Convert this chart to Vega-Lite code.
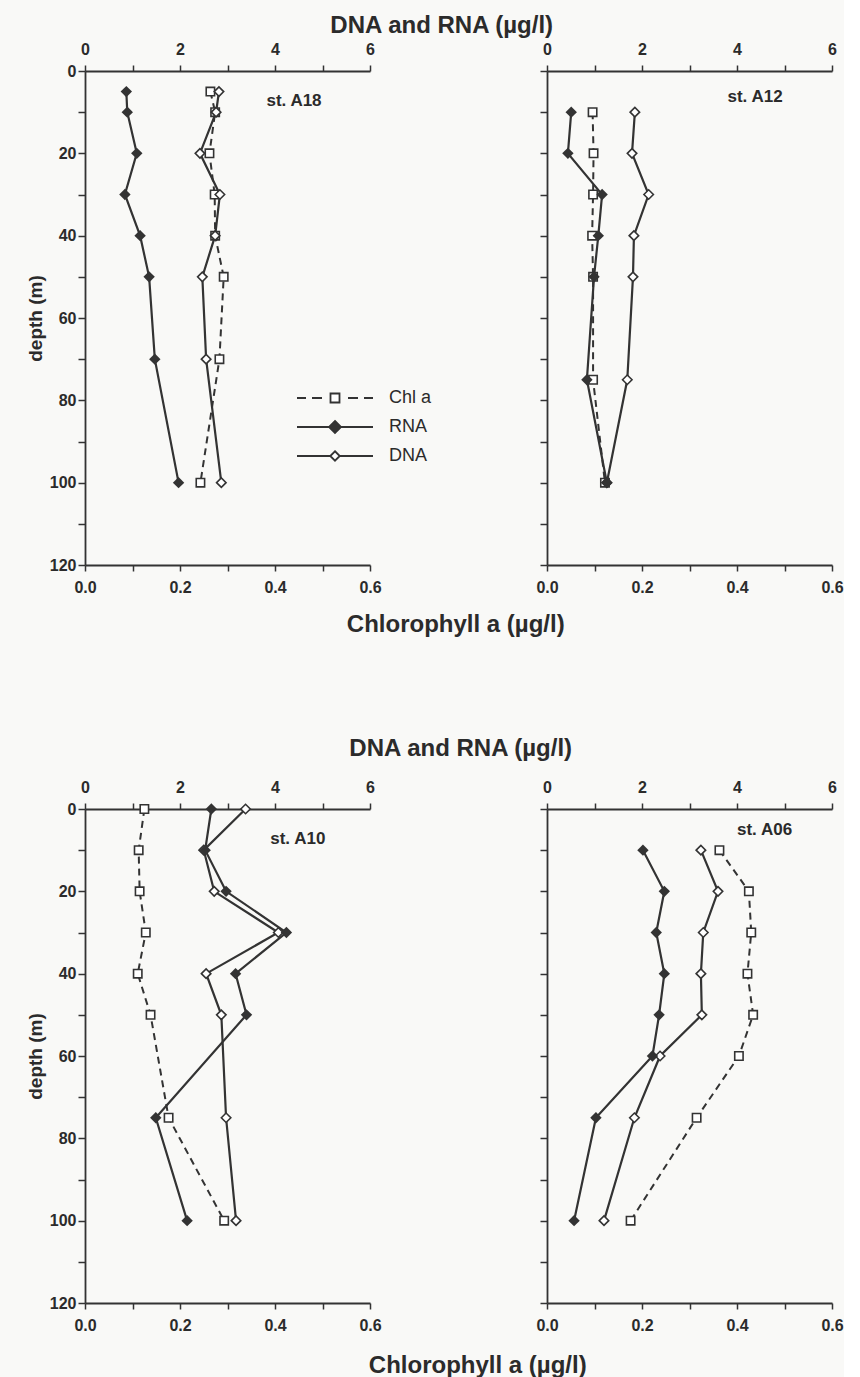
{
  "$schema": "https://vega.github.io/schema/vega-lite/v6.json",
  "background": "#f9f9f7",
  "padding": {"left": 26, "top": 14, "right": 0, "bottom": 0},
  "datasets": {
    "prof": [
      {"st":"A18","depth":5,"var":"RNA","value":0.87},{"st":"A18","depth":10,"var":"RNA","value":0.89},{"st":"A18","depth":20,"var":"RNA","value":1.09},{"st":"A18","depth":30,"var":"RNA","value":0.84},{"st":"A18","depth":40,"var":"RNA","value":1.16},{"st":"A18","depth":50,"var":"RNA","value":1.35},{"st":"A18","depth":70,"var":"RNA","value":1.47},{"st":"A18","depth":100,"var":"RNA","value":1.97},
      {"st":"A18","depth":5,"var":"DNA","value":2.82},{"st":"A18","depth":10,"var":"DNA","value":2.76},{"st":"A18","depth":20,"var":"DNA","value":2.42},{"st":"A18","depth":30,"var":"DNA","value":2.84},{"st":"A18","depth":40,"var":"DNA","value":2.74},{"st":"A18","depth":50,"var":"DNA","value":2.47},{"st":"A18","depth":70,"var":"DNA","value":2.55},{"st":"A18","depth":100,"var":"DNA","value":2.87},
      {"st":"A18","depth":5,"var":"Chl a","value":0.264},{"st":"A18","depth":10,"var":"Chl a","value":0.274},{"st":"A18","depth":20,"var":"Chl a","value":0.262},{"st":"A18","depth":30,"var":"Chl a","value":0.273},{"st":"A18","depth":40,"var":"Chl a","value":0.274},{"st":"A18","depth":50,"var":"Chl a","value":0.292},{"st":"A18","depth":70,"var":"Chl a","value":0.283},{"st":"A18","depth":100,"var":"Chl a","value":0.243},
      {"st":"A12","depth":10,"var":"RNA","value":0.51},{"st":"A12","depth":20,"var":"RNA","value":0.44},{"st":"A12","depth":30,"var":"RNA","value":1.16},{"st":"A12","depth":40,"var":"RNA","value":1.08},{"st":"A12","depth":50,"var":"RNA","value":0.99},{"st":"A12","depth":75,"var":"RNA","value":0.84},{"st":"A12","depth":100,"var":"RNA","value":1.26},
      {"st":"A12","depth":10,"var":"DNA","value":1.85},{"st":"A12","depth":20,"var":"DNA","value":1.79},{"st":"A12","depth":30,"var":"DNA","value":2.14},{"st":"A12","depth":40,"var":"DNA","value":1.83},{"st":"A12","depth":50,"var":"DNA","value":1.81},{"st":"A12","depth":75,"var":"DNA","value":1.69},{"st":"A12","depth":100,"var":"DNA","value":1.26},
      {"st":"A12","depth":10,"var":"Chl a","value":0.096},{"st":"A12","depth":20,"var":"Chl a","value":0.098},{"st":"A12","depth":30,"var":"Chl a","value":0.097},{"st":"A12","depth":40,"var":"Chl a","value":0.095},{"st":"A12","depth":50,"var":"Chl a","value":0.097},{"st":"A12","depth":75,"var":"Chl a","value":0.097},{"st":"A12","depth":100,"var":"Chl a","value":0.122},
      {"st":"A10","depth":0,"var":"RNA","value":2.66},{"st":"A10","depth":10,"var":"RNA","value":2.53},{"st":"A10","depth":20,"var":"RNA","value":2.97},{"st":"A10","depth":30,"var":"RNA","value":4.24},{"st":"A10","depth":40,"var":"RNA","value":3.17},{"st":"A10","depth":50,"var":"RNA","value":3.40},{"st":"A10","depth":75,"var":"RNA","value":1.49},{"st":"A10","depth":100,"var":"RNA","value":2.15},
      {"st":"A10","depth":0,"var":"DNA","value":3.38},{"st":"A10","depth":10,"var":"DNA","value":2.50},{"st":"A10","depth":20,"var":"DNA","value":2.72},{"st":"A10","depth":30,"var":"DNA","value":4.07},{"st":"A10","depth":40,"var":"DNA","value":2.55},{"st":"A10","depth":50,"var":"DNA","value":2.87},{"st":"A10","depth":75,"var":"DNA","value":2.97},{"st":"A10","depth":100,"var":"DNA","value":3.18},
      {"st":"A10","depth":0,"var":"Chl a","value":0.125},{"st":"A10","depth":10,"var":"Chl a","value":0.113},{"st":"A10","depth":20,"var":"Chl a","value":0.115},{"st":"A10","depth":30,"var":"Chl a","value":0.128},{"st":"A10","depth":40,"var":"Chl a","value":0.111},{"st":"A10","depth":50,"var":"Chl a","value":0.138},{"st":"A10","depth":75,"var":"Chl a","value":0.176},{"st":"A10","depth":100,"var":"Chl a","value":0.293},
      {"st":"A06","depth":10,"var":"RNA","value":2.02},{"st":"A06","depth":20,"var":"RNA","value":2.47},{"st":"A06","depth":30,"var":"RNA","value":2.30},{"st":"A06","depth":40,"var":"RNA","value":2.47},{"st":"A06","depth":50,"var":"RNA","value":2.36},{"st":"A06","depth":60,"var":"RNA","value":2.22},{"st":"A06","depth":75,"var":"RNA","value":1.03},{"st":"A06","depth":100,"var":"RNA","value":0.57},
      {"st":"A06","depth":10,"var":"DNA","value":3.24},{"st":"A06","depth":20,"var":"DNA","value":3.60},{"st":"A06","depth":30,"var":"DNA","value":3.29},{"st":"A06","depth":40,"var":"DNA","value":3.24},{"st":"A06","depth":50,"var":"DNA","value":3.26},{"st":"A06","depth":60,"var":"DNA","value":2.38},{"st":"A06","depth":75,"var":"DNA","value":1.84},{"st":"A06","depth":100,"var":"DNA","value":1.20},
      {"st":"A06","depth":10,"var":"Chl a","value":0.363},{"st":"A06","depth":20,"var":"Chl a","value":0.425},{"st":"A06","depth":30,"var":"Chl a","value":0.430},{"st":"A06","depth":40,"var":"Chl a","value":0.422},{"st":"A06","depth":50,"var":"Chl a","value":0.434},{"st":"A06","depth":60,"var":"Chl a","value":0.404},{"st":"A06","depth":75,"var":"Chl a","value":0.315},{"st":"A06","depth":100,"var":"Chl a","value":0.176}
    ]
  },
  "spacing": 100,
  "resolve": {"scale": {"color": "independent"}},
  "vconcat": [
    {
      "title": {"text": "Chlorophyll a (µg/l)", "orient": "bottom", "anchor": "middle", "offset": 18, "dx": 21},
      "vconcat": [
        {
          "title": {"text": "DNA and RNA (µg/l)", "anchor": "middle", "offset": 3, "dx": 7},
          "spacing": 177,
          "bounds": "flush",
          "resolve": {"scale": {"color": "independent"}},
          "hconcat": [
            {
              "width": 285, "height": 494,
              "data": {"name": "prof"},
              "layer": [
                {
                  "transform": [{"filter": "datum.st === 'A18' && datum.var === 'Chl a'"}],
                  "encoding": {
                    "y": {"field": "depth", "type": "quantitative", "scale": {"domain": [0, 120], "reverse": true, "nice": false, "zero": false},
                      "axis": {"values": [0,10,20,30,40,50,60,70,80,90,100,110,120], "labelExpr": "datum.value % 20 === 0 ? datum.label : ''", "title": "depth (m)", "titlePadding": 4, "labelPadding": 2, "tickSize": 7}},
                    "x": {"field": "value", "type": "quantitative", "scale": {"domain": [0, 0.6], "nice": false, "zero": false},
                      "axis": {"orient": "bottom", "values": [0,0.1,0.2,0.3,0.4,0.5,0.6], "format": ".1f", "labelExpr": "round(datum.value * 10) % 2 === 0 ? datum.label : ''", "title": null, "tickSize": 6, "labelPadding": 8}}},
                  "layer": [
                    {"mark": {"type": "line", "strokeWidth": 2, "strokeDash": [7, 5]},
                     "encoding": {"order": {"field": "depth", "type": "quantitative"},
                       "color": {"field": "var", "type": "nominal", "scale": {"domain": ["Chl a", "RNA", "DNA"], "range": ["#333333", "#333333", "#333333"]},
                         "legend": {"orient": "none", "legendX": 203, "legendY": 318, "title": null, "labelFont": "Liberation Sans", "labelFontSize": 18, "labelFontWeight": "normal", "labelColor": "#2b2b2b", "labelOffset": 45, "symbolOffset": 38, "symbolSize": 100, "rowPadding": 10, "symbolStrokeWidth": 1.8,
                           "encoding": {"symbols": {
                             "shape": {"condition": [{"test": "datum.value === 'Chl a'", "value": "M-7.6,0H-5.8M-4.6,0H-2.6M2.6,0H4.6M5.8,0H7.6M-0.9,-0.9H0.9V0.9H-0.9Z"}, {"test": "datum.value === 'RNA'", "value": "M-7.6,0H7.6M0,-1.2L1.2,0L0,1.2L-1.2,0Z"}], "value": "M-7.6,0H-0.95M0.95,0H7.6M0,-0.95L0.95,0L0,0.95L-0.95,0Z"},
                             "fill": {"condition": {"test": "datum.value === 'RNA'", "value": "#333333"}, "value": "#ffffff"},
                             "fillOpacity": {"value": 1},
                             "stroke": {"value": "#333333"},
                             "strokeWidth": {"value": 1.8},
                             "opacity": {"value": 1}}}}}}},
                    {"mark": {"type": "point", "shape": "square", "size": 70, "filled": true, "color": "#ffffff", "stroke": "#333333", "strokeWidth": 1.6, "opacity": 1}}
                  ]
                },
                {
                  "transform": [{"filter": "datum.st === 'A18' && datum.var !== 'Chl a'"}],
                  "encoding": {
                    "y": {"field": "depth", "type": "quantitative", "scale": {"domain": [0, 120], "reverse": true, "nice": false, "zero": false},
                      "axis": {"values": [0,10,20,30,40,50,60,70,80,90,100,110,120], "labelExpr": "datum.value % 20 === 0 ? datum.label : ''", "title": "depth (m)", "titlePadding": 4, "labelPadding": 2, "tickSize": 7}},
                    "x": {"field": "value", "type": "quantitative", "scale": {"domain": [0, 6], "nice": false, "zero": false},
                      "axis": {"orient": "top", "values": [0,1,2,3,4,5,6], "format": "d", "labelExpr": "datum.value % 2 === 0 ? datum.label : ''", "title": null, "tickSize": 6, "labelPadding": 8}}},
                  "layer": [
                    {"mark": {"type": "line", "strokeWidth": 2.2},
                     "encoding": {"order": {"field": "depth", "type": "quantitative"},
                       "color": {"field": "var", "type": "nominal", "scale": {"domain": ["Chl a", "RNA", "DNA"], "range": ["#333333", "#333333", "#333333"]},
                         "legend": {"orient": "none", "legendX": 203, "legendY": 318, "title": null, "labelFont": "Liberation Sans", "labelFontSize": 18, "labelFontWeight": "normal", "labelColor": "#2b2b2b", "labelOffset": 45, "symbolOffset": 38, "symbolSize": 100, "rowPadding": 10, "symbolStrokeWidth": 1.8,
                           "encoding": {"symbols": {
                             "shape": {"condition": [{"test": "datum.value === 'Chl a'", "value": "M-7.6,0H-5.8M-4.6,0H-2.6M2.6,0H4.6M5.8,0H7.6M-0.9,-0.9H0.9V0.9H-0.9Z"}, {"test": "datum.value === 'RNA'", "value": "M-7.6,0H7.6M0,-1.2L1.2,0L0,1.2L-1.2,0Z"}], "value": "M-7.6,0H-0.95M0.95,0H7.6M0,-0.95L0.95,0L0,0.95L-0.95,0Z"},
                             "fill": {"condition": {"test": "datum.value === 'RNA'", "value": "#333333"}, "value": "#ffffff"},
                             "fillOpacity": {"value": 1},
                             "stroke": {"value": "#333333"},
                             "strokeWidth": {"value": 1.8},
                             "opacity": {"value": 1}}}}}}},
                    {"transform": [{"filter": "datum.var === 'DNA'"}], "mark": {"type": "point", "shape": "diamond", "size": 90, "filled": true, "color": "#ffffff", "stroke": "#333333", "strokeWidth": 1.6, "opacity": 1}},
                    {"transform": [{"filter": "datum.var === 'RNA'"}], "mark": {"type": "point", "shape": "diamond", "size": 130, "filled": true, "color": "#333333", "opacity": 1}}
                  ]
                },
                {
                  "data": {"values": [{"label": "st. A18"}]},
                  "mark": {"type": "text", "align": "left", "baseline": "middle", "font": "Liberation Sans", "fontSize": 17, "fontWeight": "bold", "color": "#2b2b2b"},
                  "encoding": {"x": {"datum": 3.82, "type": "quantitative", "scale": {"domain": [0, 6], "nice": false}, "axis": null}, "y": {"datum": 7.2, "type": "quantitative"}, "text": {"field": "label"}}
                }
              ],
              "resolve": {"scale": {"x": "independent"}}
            },
            {
              "width": 285, "height": 494,
              "data": {"name": "prof"},
              "layer": [
                {
                  "transform": [{"filter": "datum.st === 'A12' && datum.var === 'Chl a'"}],
                  "encoding": {
                    "y": {"field": "depth", "type": "quantitative", "scale": {"domain": [0, 120], "reverse": true, "nice": false, "zero": false},
                      "axis": {"values": [0,10,20,30,40,50,60,70,80,90,100,110,120], "labels": false, "title": null, "tickSize": 7}},
                    "x": {"field": "value", "type": "quantitative", "scale": {"domain": [0, 0.6], "nice": false, "zero": false},
                      "axis": {"orient": "bottom", "values": [0,0.1,0.2,0.3,0.4,0.5,0.6], "format": ".1f", "labelExpr": "round(datum.value * 10) % 2 === 0 ? datum.label : ''", "title": null, "tickSize": 6, "labelPadding": 8}}},
                  "layer": [
                    {"mark": {"type": "line", "color": "#333333", "strokeWidth": 2, "strokeDash": [7, 5]}, "encoding": {"order": {"field": "depth", "type": "quantitative"}}},
                    {"mark": {"type": "point", "shape": "square", "size": 70, "filled": true, "color": "#ffffff", "stroke": "#333333", "strokeWidth": 1.6, "opacity": 1}}
                  ]
                },
                {
                  "transform": [{"filter": "datum.st === 'A12' && datum.var !== 'Chl a'"}],
                  "encoding": {
                    "y": {"field": "depth", "type": "quantitative", "scale": {"domain": [0, 120], "reverse": true, "nice": false, "zero": false},
                      "axis": {"values": [0,10,20,30,40,50,60,70,80,90,100,110,120], "labels": false, "title": null, "tickSize": 7}},
                    "x": {"field": "value", "type": "quantitative", "scale": {"domain": [0, 6], "nice": false, "zero": false},
                      "axis": {"orient": "top", "values": [0,1,2,3,4,5,6], "format": "d", "labelExpr": "datum.value % 2 === 0 ? datum.label : ''", "title": null, "tickSize": 6, "labelPadding": 8}}},
                  "layer": [
                    {"mark": {"type": "line", "color": "#333333", "strokeWidth": 2.2}, "encoding": {"order": {"field": "depth", "type": "quantitative"}, "detail": {"field": "var", "type": "nominal"}}},
                    {"transform": [{"filter": "datum.var === 'DNA'"}], "mark": {"type": "point", "shape": "diamond", "size": 90, "filled": true, "color": "#ffffff", "stroke": "#333333", "strokeWidth": 1.6, "opacity": 1}},
                    {"transform": [{"filter": "datum.var === 'RNA'"}], "mark": {"type": "point", "shape": "diamond", "size": 130, "filled": true, "color": "#333333", "opacity": 1}}
                  ]
                },
                {
                  "data": {"values": [{"label": "st. A12"}]},
                  "mark": {"type": "text", "align": "left", "baseline": "middle", "font": "Liberation Sans", "fontSize": 17, "fontWeight": "bold", "color": "#2b2b2b"},
                  "encoding": {"x": {"datum": 3.8, "type": "quantitative", "scale": {"domain": [0, 6], "nice": false}, "axis": null}, "y": {"datum": 6.4, "type": "quantitative"}, "text": {"field": "label"}}
                }
              ],
              "resolve": {"scale": {"x": "independent"}}
            }
          ]
        }
      ]
    },
    {
      "title": {"text": "Chlorophyll a (µg/l)", "orient": "bottom", "anchor": "middle", "offset": 21, "dx": 43},
      "vconcat": [
        {
          "title": {"text": "DNA and RNA (µg/l)", "anchor": "middle", "offset": 18, "dx": 26},
          "spacing": 177,
          "bounds": "flush",
          "hconcat": [
            {
              "width": 285, "height": 494,
              "data": {"name": "prof"},
              "layer": [
                {
                  "transform": [{"filter": "datum.st === 'A10' && datum.var === 'Chl a'"}],
                  "encoding": {
                    "y": {"field": "depth", "type": "quantitative", "scale": {"domain": [0, 120], "reverse": true, "nice": false, "zero": false},
                      "axis": {"values": [0,10,20,30,40,50,60,70,80,90,100,110,120], "labelExpr": "datum.value % 20 === 0 ? datum.label : ''", "title": "depth (m)", "titlePadding": 4, "labelPadding": 2, "tickSize": 7}},
                    "x": {"field": "value", "type": "quantitative", "scale": {"domain": [0, 0.6], "nice": false, "zero": false},
                      "axis": {"orient": "bottom", "values": [0,0.1,0.2,0.3,0.4,0.5,0.6], "format": ".1f", "labelExpr": "round(datum.value * 10) % 2 === 0 ? datum.label : ''", "title": null, "tickSize": 6, "labelPadding": 8}}},
                  "layer": [
                    {"mark": {"type": "line", "color": "#333333", "strokeWidth": 2, "strokeDash": [7, 5]}, "encoding": {"order": {"field": "depth", "type": "quantitative"}}},
                    {"mark": {"type": "point", "shape": "square", "size": 70, "filled": true, "color": "#ffffff", "stroke": "#333333", "strokeWidth": 1.6, "opacity": 1}}
                  ]
                },
                {
                  "transform": [{"filter": "datum.st === 'A10' && datum.var !== 'Chl a'"}],
                  "encoding": {
                    "y": {"field": "depth", "type": "quantitative", "scale": {"domain": [0, 120], "reverse": true, "nice": false, "zero": false},
                      "axis": {"values": [0,10,20,30,40,50,60,70,80,90,100,110,120], "labelExpr": "datum.value % 20 === 0 ? datum.label : ''", "title": "depth (m)", "titlePadding": 4, "labelPadding": 2, "tickSize": 7}},
                    "x": {"field": "value", "type": "quantitative", "scale": {"domain": [0, 6], "nice": false, "zero": false},
                      "axis": {"orient": "top", "values": [0,1,2,3,4,5,6], "format": "d", "labelExpr": "datum.value % 2 === 0 ? datum.label : ''", "title": null, "tickSize": 6, "labelPadding": 8}}},
                  "layer": [
                    {"mark": {"type": "line", "color": "#333333", "strokeWidth": 2.2}, "encoding": {"order": {"field": "depth", "type": "quantitative"}, "detail": {"field": "var", "type": "nominal"}}},
                    {"transform": [{"filter": "datum.var === 'DNA'"}], "mark": {"type": "point", "shape": "diamond", "size": 90, "filled": true, "color": "#ffffff", "stroke": "#333333", "strokeWidth": 1.6, "opacity": 1}},
                    {"transform": [{"filter": "datum.var === 'RNA'"}], "mark": {"type": "point", "shape": "diamond", "size": 130, "filled": true, "color": "#333333", "opacity": 1}}
                  ]
                },
                {
                  "data": {"values": [{"label": "st. A10"}]},
                  "mark": {"type": "text", "align": "left", "baseline": "middle", "font": "Liberation Sans", "fontSize": 17, "fontWeight": "bold", "color": "#2b2b2b"},
                  "encoding": {"x": {"datum": 3.9, "type": "quantitative", "scale": {"domain": [0, 6], "nice": false}, "axis": null}, "y": {"datum": 7.3, "type": "quantitative"}, "text": {"field": "label"}}
                }
              ],
              "resolve": {"scale": {"x": "independent"}}
            },
            {
              "width": 285, "height": 494,
              "data": {"name": "prof"},
              "layer": [
                {
                  "transform": [{"filter": "datum.st === 'A06' && datum.var === 'Chl a'"}],
                  "encoding": {
                    "y": {"field": "depth", "type": "quantitative", "scale": {"domain": [0, 120], "reverse": true, "nice": false, "zero": false},
                      "axis": {"values": [0,10,20,30,40,50,60,70,80,90,100,110,120], "labels": false, "title": null, "tickSize": 7}},
                    "x": {"field": "value", "type": "quantitative", "scale": {"domain": [0, 0.6], "nice": false, "zero": false},
                      "axis": {"orient": "bottom", "values": [0,0.1,0.2,0.3,0.4,0.5,0.6], "format": ".1f", "labelExpr": "round(datum.value * 10) % 2 === 0 ? datum.label : ''", "title": null, "tickSize": 6, "labelPadding": 8}}},
                  "layer": [
                    {"mark": {"type": "line", "color": "#333333", "strokeWidth": 2, "strokeDash": [7, 5]}, "encoding": {"order": {"field": "depth", "type": "quantitative"}}},
                    {"mark": {"type": "point", "shape": "square", "size": 70, "filled": true, "color": "#ffffff", "stroke": "#333333", "strokeWidth": 1.6, "opacity": 1}}
                  ]
                },
                {
                  "transform": [{"filter": "datum.st === 'A06' && datum.var !== 'Chl a'"}],
                  "encoding": {
                    "y": {"field": "depth", "type": "quantitative", "scale": {"domain": [0, 120], "reverse": true, "nice": false, "zero": false},
                      "axis": {"values": [0,10,20,30,40,50,60,70,80,90,100,110,120], "labels": false, "title": null, "tickSize": 7}},
                    "x": {"field": "value", "type": "quantitative", "scale": {"domain": [0, 6], "nice": false, "zero": false},
                      "axis": {"orient": "top", "values": [0,1,2,3,4,5,6], "format": "d", "labelExpr": "datum.value % 2 === 0 ? datum.label : ''", "title": null, "tickSize": 6, "labelPadding": 8}}},
                  "layer": [
                    {"mark": {"type": "line", "color": "#333333", "strokeWidth": 2.2}, "encoding": {"order": {"field": "depth", "type": "quantitative"}, "detail": {"field": "var", "type": "nominal"}}},
                    {"transform": [{"filter": "datum.var === 'DNA'"}], "mark": {"type": "point", "shape": "diamond", "size": 90, "filled": true, "color": "#ffffff", "stroke": "#333333", "strokeWidth": 1.6, "opacity": 1}},
                    {"transform": [{"filter": "datum.var === 'RNA'"}], "mark": {"type": "point", "shape": "diamond", "size": 130, "filled": true, "color": "#333333", "opacity": 1}}
                  ]
                },
                {
                  "data": {"values": [{"label": "st. A06"}]},
                  "mark": {"type": "text", "align": "left", "baseline": "middle", "font": "Liberation Sans", "fontSize": 17, "fontWeight": "bold", "color": "#2b2b2b"},
                  "encoding": {"x": {"datum": 4.0, "type": "quantitative", "scale": {"domain": [0, 6], "nice": false}, "axis": null}, "y": {"datum": 5.1, "type": "quantitative"}, "text": {"field": "label"}}
                }
              ],
              "resolve": {"scale": {"x": "independent"}}
            }
          ]
        }
      ]
    }
  ],
  "config": {
    "view": {"stroke": null},
    "font": "Liberation Sans",
    "axis": {"labelFont": "Liberation Sans", "labelFontSize": 16, "labelFontWeight": "bold", "labelColor": "#2b2b2b", "tickColor": "#333333", "tickWidth": 1.5, "domainColor": "#333333", "domainWidth": 1.8, "grid": false, "labelOverlap": false, "labelFlush": false, "titleFont": "Liberation Sans", "titleFontSize": 19, "titleFontWeight": "bold", "titleColor": "#2b2b2b"},
    "title": {"font": "Liberation Sans", "fontSize": 24, "fontWeight": "bold", "color": "#2b2b2b"}
  }
}
